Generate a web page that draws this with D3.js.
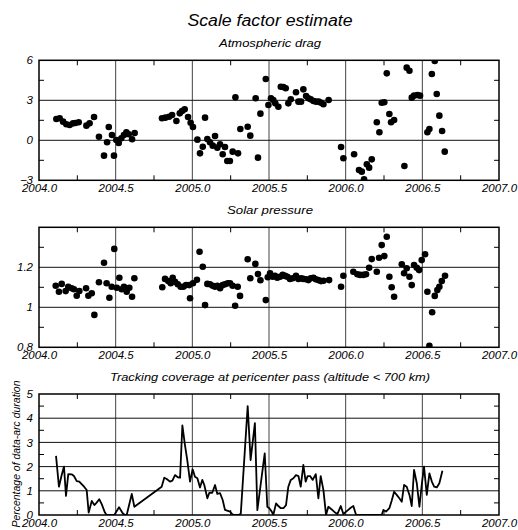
<!DOCTYPE html>
<html><head><meta charset="utf-8">
<script src="https://cdn.jsdelivr.net/npm/d3@7"></script>
<style>
body{margin:0;background:#fff;}
text{font-family:"Liberation Sans",Arial,sans-serif;font-style:italic;fill:#000;}
</style></head>
<body><svg id="c" width="518" height="530"></svg>
<script>
// ---- data ----
const xTicks = [2004.0, 2004.5, 2005.0, 2005.5, 2006.0, 2006.5, 2007.0];
const xMinor = [2004.25, 2004.75, 2005.25, 2005.75, 2006.25, 2006.75];

const dragTicks = [-3, 0, 3, 6];
const dragMinor = [-1.5, 1.5, 4.5];
const dragPoints = [
[2004.113,1.60],[2004.135,1.65],[2004.157,1.40],[2004.178,1.20],[2004.200,1.15],[2004.222,1.27],[2004.237,1.30],[2004.259,1.35],[2004.309,1.10],[2004.330,1.27],[2004.359,1.75],[2004.391,0.27],[2004.424,-1.15],[2004.444,-0.15],[2004.455,1.00],[2004.476,0.40],[2004.489,-1.15],[2004.504,0.02],[2004.520,-0.20],[2004.537,0.15],[2004.554,0.40],[2004.570,0.60],[2004.585,0.45],[2004.607,0.08],[2004.624,0.55],
[2004.802,1.65],[2004.824,1.70],[2004.848,1.77],[2004.868,1.90],[2004.896,1.45],[2004.918,2.02],[2004.933,2.20],[2004.950,2.32],[2004.972,1.75],[2004.989,1.32],[2005.004,1.00],
[2005.033,0.05],[2005.050,-0.98],[2005.068,-0.48],[2005.083,1.70],[2005.098,0.10],[2005.115,-0.15],[2005.133,-0.40],[2005.148,0.32],[2005.163,-0.55],[2005.181,-0.30],[2005.198,-1.05],[2005.213,-0.50],[2005.228,-1.55],[2005.245,-1.55],[2005.263,-0.85],[2005.281,3.22],[2005.298,-0.98],[2005.313,0.85],[2005.361,1.02],[2005.378,0.35],[2005.413,3.15],[2005.428,-1.30],[2005.444,2.00],[2005.479,4.60],[2005.496,2.65],[2005.513,3.15],[2005.528,3.02],[2005.541,2.77],[2005.561,2.52],[2005.577,4.02],[2005.594,4.00],[2005.609,3.90],[2005.626,2.77],[2005.642,3.07],[2005.676,3.60],[2005.692,2.90],[2005.709,2.90],[2005.724,3.82],[2005.742,3.32],[2005.757,3.15],[2005.772,3.07],[2005.790,2.95],[2005.807,2.90],[2005.824,2.90],[2005.839,2.82],[2005.855,2.70],[2005.889,3.02],
[2005.970,-0.50],[2005.985,-1.35],[2006.055,-1.05],[2006.087,-2.23],[2006.105,-2.35],[2006.120,-2.93],[2006.138,-1.80],[2006.153,-2.05],[2006.170,-1.43],[2006.203,1.35],[2006.220,0.60],[2006.235,2.82],[2006.252,2.85],[2006.268,5.02],[2006.285,1.97],[2006.296,1.35],[2006.316,1.52],[2006.383,-1.93],[2006.398,5.45],[2006.416,5.22],[2006.431,3.20],[2006.446,3.35],[2006.468,3.40],[2006.485,3.35],[2006.533,0.60],[2006.546,0.85],[2006.562,4.97],[2006.581,5.95],[2006.594,3.47],[2006.611,1.85],[2006.629,0.70],[2006.646,-0.85]
];

const solarTicks = [0.8, 1, 1.2];
const solarGrid = [1.0, 1.2];
const solarMinor = [0.9, 1.1, 1.3];
const solarPoints = [
[2004.109,1.108],[2004.130,1.078],[2004.148,1.117],[2004.174,1.081],[2004.191,1.103],[2004.213,1.095],[2004.228,1.090],[2004.246,1.058],[2004.263,1.081],[2004.307,1.095],[2004.322,1.058],[2004.344,1.070],[2004.361,0.962],[2004.391,1.125],[2004.424,1.223],[2004.441,1.120],[2004.459,1.048],[2004.474,1.103],[2004.491,1.292],[2004.507,1.098],[2004.524,1.148],[2004.539,1.090],[2004.554,1.103],[2004.572,1.078],[2004.589,1.098],[2004.607,1.053],[2004.622,1.145],
[2004.804,1.100],[2004.822,1.142],[2004.843,1.131],[2004.859,1.120],[2004.872,1.148],[2004.887,1.128],[2004.905,1.115],[2004.924,1.103],[2004.941,1.103],[2004.959,1.111],[2004.980,1.111],[2004.985,1.045],[2005.004,1.120],[2005.030,1.138],[2005.047,1.278],
[2005.068,1.203],[2005.083,1.011],[2005.098,1.117],[2005.115,1.115],[2005.133,1.108],[2005.148,1.103],[2005.163,1.108],[2005.181,1.095],[2005.198,1.111],[2005.213,1.115],[2005.231,1.120],[2005.246,1.120],[2005.263,1.108],[2005.279,1.008],[2005.296,1.103],[2005.311,1.057],[2005.361,1.240],[2005.378,1.145],[2005.411,1.217],[2005.428,1.166],[2005.444,1.135],[2005.479,1.036],[2005.492,1.150],[2005.507,1.170],[2005.524,1.153],[2005.539,1.157],[2005.554,1.148],[2005.572,1.153],[2005.589,1.162],[2005.605,1.157],[2005.620,1.153],[2005.637,1.142],[2005.655,1.145],[2005.676,1.157],[2005.692,1.142],[2005.709,1.145],[2005.724,1.142],[2005.742,1.140],[2005.757,1.136],[2005.772,1.145],[2005.790,1.148],[2005.805,1.140],[2005.822,1.136],[2005.839,1.131],[2005.855,1.133],[2005.892,1.136],
[2005.970,1.103],[2005.985,1.158],[2006.050,1.178],[2006.076,1.165],[2006.094,1.162],[2006.115,1.162],[2006.133,1.165],[2006.153,1.198],[2006.170,1.241],[2006.203,1.178],[2006.218,1.248],[2006.235,1.311],[2006.252,1.256],[2006.268,1.353],[2006.285,1.153],[2006.300,1.100],[2006.316,1.053],[2006.366,1.215],[2006.381,1.170],[2006.398,1.195],[2006.416,1.153],[2006.431,1.111],[2006.446,1.211],[2006.464,1.198],[2006.479,1.186],[2006.496,1.236],[2006.518,1.265],[2006.533,1.078],[2006.546,0.808],[2006.564,0.975],[2006.581,1.057],[2006.598,1.086],[2006.611,1.103],[2006.627,1.131],[2006.648,1.158]
];

const covTicks = [0, 1, 2, 3, 4, 5];
const covGrid = [1, 2, 3, 4];
const covMinor = [0.5, 1.5, 2.5, 3.5, 4.5];
const covPoints = [
[2004.111,2.44],[2004.130,1.17],[2004.148,1.65],[2004.163,2.00],[2004.176,0.79],[2004.191,1.69],[2004.213,1.68],[2004.228,1.61],[2004.246,1.40],[2004.263,1.38],[2004.278,1.28],[2004.294,1.17],[2004.311,1.03],[2004.324,0.10],[2004.344,0.58],[2004.361,0.41],[2004.376,0.51],[2004.393,0.65],[2004.409,0.45],[2004.430,0.10],[2004.441,0],[2004.491,0],[2004.522,0.32],[2004.546,0.07],[2004.561,0],[2004.572,0],[2004.605,0.87],[2004.622,0.34],[2004.800,1.17],[2004.817,1.54],[2004.833,1.49],[2004.854,1.38],[2004.870,1.42],[2004.887,1.65],[2004.905,1.56],[2004.920,1.54],[2004.935,3.70],[2004.952,2.89],[2004.967,2.27],[2004.985,1.38],[2005.002,1.89],[2005.017,1.58],[2005.033,1.52],[2005.050,1.14],[2005.065,1.45],[2005.078,1.24],[2005.098,0.69],[2005.111,0.92],[2005.130,0.92],[2005.148,1.24],[2005.163,0.87],[2005.181,0.90],[2005.198,0.62],[2005.213,0.21],[2005.246,0.14],[2005.261,0.03],[2005.279,0],[2005.300,0],[2005.316,0.05],[2005.361,4.50],[2005.380,2.27],[2005.408,3.80],[2005.424,0.20],[2005.472,2.55],[2005.489,0.34],[2005.502,0.28],[2005.518,0.14],[2005.528,0],[2005.546,0.48],[2005.561,0.37],[2005.577,0.28],[2005.594,0.28],[2005.611,0.41],[2005.626,1.17],[2005.642,1.45],[2005.659,1.52],[2005.676,1.65],[2005.692,1.61],[2005.707,1.17],[2005.724,2.07],[2005.739,1.38],[2005.752,1.61],[2005.768,1.61],[2005.785,1.45],[2005.805,1.69],[2005.822,0.69],[2005.837,1.61],[2005.855,1.03],[2005.872,0],[2005.887,0.34],[2005.909,0.23],[2005.931,0.10],[2005.946,0.04],[2005.968,0.37],[2005.985,0.04],[2006.011,0.18],[2006.033,0.30],[2006.050,0.37],[2006.068,0],[2006.235,0],[2006.246,0.21],[2006.263,0.14],[2006.285,0.28],[2006.300,0.59],[2006.316,0.96],[2006.333,0.83],[2006.350,0.69],[2006.366,0.55],[2006.381,1.24],[2006.398,1.17],[2006.416,0.83],[2006.431,0.37],[2006.446,1.86],[2006.464,1.31],[2006.481,0.34],[2006.496,1.24],[2006.511,2.00],[2006.529,0.83],[2006.546,1.72],[2006.562,1.38],[2006.577,1.17],[2006.594,1.14],[2006.611,1.31],[2006.631,1.83]
];

// ---- drawing ----
const svg = d3.select("#c");
const L = 39, R = 499;
const x = d3.scaleLinear().domain([2004, 2007]).range([L, R]);

svg.append("text").attr("x", 270).attr("y", 26).attr("text-anchor", "middle")
  .attr("font-size", 16).attr("textLength", 165).attr("lengthAdjust", "spacingAndGlyphs")
  .text("Scale factor estimate");

function panel(cfg) {
  const y = d3.scaleLinear().domain(cfg.domain).range([cfg.bottom, cfg.top]);
  const g = svg.append("g");
  // subtitle
  g.append("text").attr("x", 270).attr("y", cfg.top - 13.5).attr("text-anchor", "middle")
    .attr("font-size", 11).attr("textLength", cfg.subLen).attr("lengthAdjust", "spacingAndGlyphs")
    .text(cfg.sub);
  // vertical grid
  g.selectAll(".vg").data(xTicks.slice(1, -1)).join("line")
    .attr("x1", d => x(d)).attr("x2", d => x(d)).attr("y1", cfg.top).attr("y2", cfg.bottom)
    .attr("stroke", "#444").attr("stroke-width", 1);
  // horizontal grid
  g.selectAll(".hg").data(cfg.grid).join("line")
    .attr("x1", L).attr("x2", R).attr("y1", d => y(d)).attr("y2", d => y(d))
    .attr("stroke", "#111").attr("stroke-width", 1);
  // minor x ticks (top & bottom, inward)
  xMinor.forEach(v => {
    g.append("line").attr("x1", x(v)).attr("x2", x(v)).attr("y1", cfg.top).attr("y2", cfg.top + 5).attr("stroke", "#000");
    g.append("line").attr("x1", x(v)).attr("x2", x(v)).attr("y1", cfg.bottom).attr("y2", cfg.bottom - 5).attr("stroke", "#000");
  });
  // minor y ticks (left & right, inward)
  cfg.minor.forEach(v => {
    g.append("line").attr("x1", L).attr("x2", L + 5).attr("y1", y(v)).attr("y2", y(v)).attr("stroke", "#000");
    g.append("line").attr("x1", R).attr("x2", R - 5).attr("y1", y(v)).attr("y2", y(v)).attr("stroke", "#000");
  });
  // axes labels
  const ax = d3.axisBottom(x).tickValues(xTicks).tickSize(0).tickPadding(0).tickFormat(d3.format(".1f"));
  const axg = g.append("g").attr("transform", `translate(0,${cfg.bottom})`).call(ax);
  axg.select(".domain").remove();
  axg.selectAll("text").attr("font-size", 11.5).attr("dy", null).attr("y", 12)
    .style("font-family", '"Liberation Sans",Arial,sans-serif').style("font-style", "italic");
  const ay = d3.axisLeft(y).tickValues(cfg.ticks).tickSize(0).tickPadding(6).tickFormat(cfg.fmt);
  const ayg = g.append("g").attr("transform", `translate(${L},0)`).call(ay);
  ayg.select(".domain").remove();
  ayg.selectAll("text").attr("font-size", 11.5)
    .style("font-family", '"Liberation Sans",Arial,sans-serif').style("font-style", "italic");
  // clip
  const cid = "clip" + cfg.id;
  svg.append("clipPath").attr("id", cid).append("rect")
    .attr("x", L).attr("y", cfg.top).attr("width", R - L).attr("height", cfg.bottom - cfg.top);
  const dg = g.append("g").attr("clip-path", `url(#${cid})`);
  cfg.draw(dg, y);
  // frame
  g.append("rect").attr("x", L).attr("y", cfg.top).attr("width", R - L).attr("height", cfg.bottom - cfg.top)
    .attr("fill", "none").attr("stroke", "#000").attr("stroke-width", 1.5);
  return y;
}

panel({
  id: 1, top: 60.3, bottom: 180.3, domain: [-3, 6], sub: "Atmospheric drag", subLen: 102,
  grid: [0, 3], minor: dragMinor, ticks: dragTicks, fmt: d3.format("d"),
  draw: (g, y) => g.selectAll("circle").data(dragPoints).join("circle")
    .attr("cx", d => x(d[0])).attr("cy", d => y(d[1])).attr("r", 3.3).attr("fill", "#000")
});

panel({
  id: 2, top: 227.3, bottom: 347.3, domain: [0.8, 1.4], sub: "Solar pressure", subLen: 86,
  grid: solarGrid, minor: solarMinor, ticks: solarTicks, fmt: d => (d === 1 ? "1" : d3.format(".1f")(d)),
  draw: (g, y) => g.selectAll("circle").data(solarPoints).join("circle")
    .attr("cx", d => x(d[0])).attr("cy", d => y(d[1])).attr("r", 3.3).attr("fill", "#000")
});

panel({
  id: 3, top: 394, bottom: 515, domain: [0, 5], sub: "Tracking coverage at pericenter pass (altitude < 700 km)", subLen: 320,
  grid: covGrid, minor: covMinor, ticks: covTicks, fmt: d3.format("d"),
  draw: (g, y) => g.append("path").datum(covPoints)
    .attr("d", d3.line().x(d => x(d[0])).y(d => y(d[1])))
    .attr("fill", "none").attr("stroke", "#000").attr("stroke-width", 1.8).attr("stroke-linejoin", "round")
});

svg.append("text").attr("transform", "translate(20,454) rotate(-90)").attr("text-anchor", "middle")
  .attr("font-size", 10.5).attr("textLength", 147).attr("lengthAdjust", "spacingAndGlyphs")
  .text("Percentage of data-arc duration");
</script></body></html>
